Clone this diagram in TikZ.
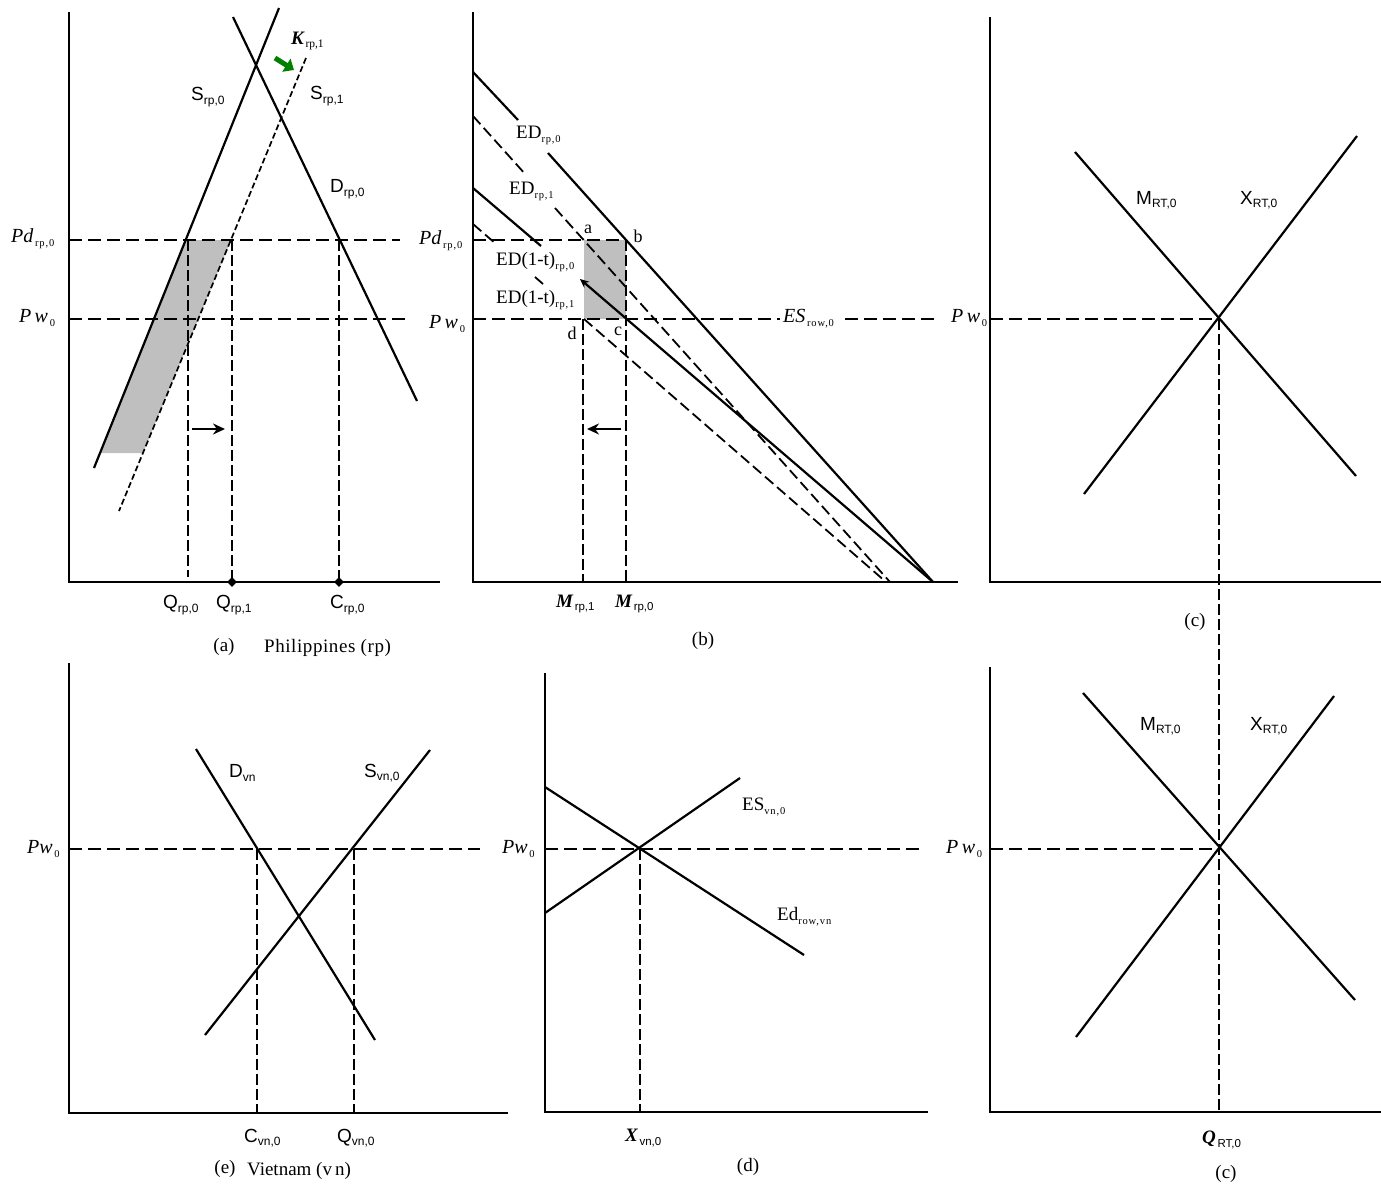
\documentclass[tikz,border=0pt]{standalone}
\usepackage{fontspec}
\setmainfont{Liberation Serif}
\setsansfont{Liberation Sans}
\usetikzlibrary{arrows.meta,shapes.geometric}
% sans label with subscript
\newcommand{\SLab}[2]{{\sffamily\fontsize{19}{19}\selectfont #1\raisebox{-3.5pt}{\fontsize{12}{12}\selectfont #2}}}
% serif upright label with subscript
\newcommand{\RLab}[2]{{\fontsize{19}{19}\selectfont #1\raisebox{-4pt}{\fontsize{10.5}{10.5}\selectfont\addfontfeature{LetterSpace=8}#2}}}
% italic label with subscript
\newcommand{\ILab}[2]{{\fontsize{20}{20}\selectfont\itshape #1\/}\,\raisebox{-4pt}{\fontsize{10.5}{10.5}\selectfont\addfontfeature{LetterSpace=8}#2}}
% bold italic label with sans subscript
\newcommand{\BLab}[2]{{\fontsize{19}{19}\selectfont\bfseries\itshape #1}\,\raisebox{-3.5pt}{\sffamily\fontsize{11.5}{11.5}\selectfont #2}}
\newcommand{\Capt}[1]{{\fontsize{19}{19}\selectfont #1}}
\newcommand{\Pt}[1]{{\fontsize{18}{18}\selectfont #1}}
\begin{document}
\begin{tikzpicture}[x=1pt,y=-1pt,
  axisl/.style={line width=2.8pt},
  curve/.style={line width=2.2pt},
  guide/.style={line width=2pt, dash pattern=on 13pt off 6pt},
  vguide/.style={line width=2pt, dash pattern=on 11pt off 4pt},
  edash/.style={line width=1.8pt, dash pattern=on 11pt off 5pt},
  fine/.style={line width=1.7pt, dash pattern=on 6pt off 3pt},
  shadec/.style={fill=black!25},
  lbl/.style={inner sep=0pt, anchor=west},
  ctr/.style={inner sep=0pt, anchor=center},
  dot/.style={diamond, fill=black, inner sep=0pt, minimum size=10pt},
  shiftarr/.style={line width=2.2pt, -{Stealth[length=12pt,width=11pt]}}
]
\useasboundingbox (0,0) rectangle (1381,1186);

%================ Panel (a) =================
\fill[shadec] (100,453) -- (143,453) -- (231,240) -- (186,240) -- cycle;
\draw[axisl] (69,12) -- (69,582) -- (440,582);
\draw[curve] (94,468) -- (279,8);      % S_rp,0
\draw[curve] (233,17) -- (417,401);    % D_rp,0
\draw[fine] (306,58) -- (119,511);     % S_rp,1
\draw[guide] (69,240) -- (400,240);
\draw[guide] (69,319) -- (405,319);
\draw[vguide] (188,240) -- (188,577);
\draw[vguide] (232,240) -- (232,582);
\draw[vguide] (339,240) -- (339,582);
\node[dot] (dq1) at (232,582) {};
\node[dot] (dc0) at (339,582) {};
\coordinate (sa1) at (192,429); \coordinate (sa2) at (225,429);
\draw[shiftarr] (sa1) -- (sa2);
\coordinate (ga1) at (275,58); \coordinate (ga2) at (294,70);
\draw[line width=5pt, green!50!black, -{Triangle[length=9pt,width=15pt]}] (ga1) -- (ga2);
\node[lbl] (Kr1) at (291,41) {\BLab{K}{\rmfamily rp,1}};
\node[lbl] (Sr0) at (191,97) {\SLab{S}{rp,0}};
\node[lbl] (Sr1) at (310,96) {\SLab{S}{rp,1}};
\node[lbl] (Dr0) at (330,189) {\SLab{D}{rp,0}};
\node[lbl] (PdA) at (11,239) {\ILab{Pd}{rp,0}};
\node[lbl] (PwA) at (19,318) {\ILab{P\,w}{0}};
\node[lbl] (Qr0) at (163,605) {\SLab{Q}{rp,0}};
\node[lbl] (Qr1) at (216,605) {\SLab{Q}{rp,1}};
\node[lbl] (Cr0) at (330,605) {\SLab{C}{rp,0}};
\node[ctr] (capa) at (224,647) {\Capt{(a)}};
\node[lbl] (capaa) at (264,648) {\Capt{\addfontfeature{LetterSpace=3}Philippines (rp)}};

%================ Panel (b) =================
\fill[shadec] (584,240) rectangle (626,319);
\draw[axisl] (473,12) -- (473,582) -- (958,582);
\draw[curve] (473,72) -- (518,120);
\draw[curve] (548,153) -- (933,582);        % ED_rp,0
\draw[edash] (473,116) -- (526,175);
\draw[edash] (555,208) -- (890,582);        % ED_rp,1
\draw[curve] (473,188) -- (541,246);
\coordinate (e1a) at (933,582); \coordinate (e1b) at (580,279);
\draw[curve, -{Stealth[length=9pt,width=8pt]}] (e1a) -- (e1b); % ED(1-t)_rp,0
\draw[edash] (473,224) -- (496,244);
\draw[line width=1.8pt] (535,277) -- (543,284);
\draw[edash] (584,319) -- (886,582);        % ED(1-t)_rp,1
\draw[guide] (473,240) -- (626,240);
\draw[guide] (473,319) -- (780,319);
\draw[guide] (845,319) -- (940,319);
\draw[vguide] (583,319) -- (583,582);
\draw[vguide] (626,240) -- (626,582);
\coordinate (sb1) at (621,429); \coordinate (sb2) at (587,429);
\draw[shiftarr] (sb1) -- (sb2);
\node[lbl] (PdB) at (419,241) {\ILab{Pd}{rp,0}};
\node[lbl] (PwB) at (429,324) {\ILab{P\,w}{0}};
\node[lbl] (ED0) at (516,135) {\RLab{ED}{rp,0}};
\node[lbl] (ED1) at (509,191) {\RLab{ED}{rp,1}};
\node[lbl] (EDt0) at (496,262) {\RLab{ED(1-t)}{rp,0}};
\node[lbl] (EDt1) at (496,300) {\RLab{ED(1-t)}{rp,1}};
\node[ctr] (pa) at (588,229) {\Pt{a}};
\node[ctr] (pb) at (638,236) {\Pt{b}};
\node[ctr] (pc) at (618,331) {\Pt{c}};
\node[ctr] (pd) at (572,333) {\Pt{d}};
\node[lbl] (ESr) at (783,319) {\ILab{ES}{row,0}};
\node[lbl] (Mr1) at (556,604) {\BLab{M}{rp,1}};
\node[lbl] (Mr0) at (615,604) {\BLab{M}{rp,0}};
\node[ctr] (capb) at (703,641) {\Capt{(b)}};

%================ Panel (c) top =================
\draw[axisl] (990,17) -- (990,582) -- (1381,582);
\draw[curve] (1075,152) -- (1356,476);  % M_RT,0
\draw[curve] (1084,494) -- (1357,136);  % X_RT,0
\coordinate (eqc) at (1219,319);
\coordinate (eqc2) at (1219,1112);
\draw[guide] (990,319) -- (eqc);
\draw[vguide] (eqc) -- (eqc2);
\node[lbl] (PwC) at (951,318) {\ILab{P\,w}{0}};
\node[lbl] (MRT) at (1136,200) {\SLab{M}{RT,0}};
\node[lbl] (XRT) at (1240,200) {\SLab{X}{RT,0}};
\node[ctr] (capc) at (1195,622) {\Capt{(c)}};

%================ Panel (e) =================
\draw[axisl] (69,663) -- (69,1113) -- (508,1113);
\draw[curve] (196,749) -- (375,1040);   % D_vn
\draw[curve] (205,1035) -- (430,750);   % S_vn,0
\draw[guide] (69,849) -- (480,849);
\draw[vguide] (257,849) -- (257,1113);
\draw[vguide] (354,849) -- (354,1113);
\node[lbl] (PwE) at (27,849) {\ILab{Pw}{0}};
\node[lbl] (Dvn) at (229,773) {\SLab{D}{vn}};
\node[lbl] (Svn) at (364,773) {\SLab{S}{vn,0}};
\node[lbl] (Cvn) at (244,1138) {\SLab{C}{vn,0}};
\node[lbl] (Qvn) at (337,1138) {\SLab{Q}{vn,0}};
\node[ctr] (cape) at (225,1169) {\Capt{(e)}};
\node[lbl] (capee) at (247,1171) {\Capt{Vietnam (v\,n)}};

%================ Panel (d) =================
\draw[axisl] (545,673) -- (545,1112) -- (928,1112);
\draw[curve] (545,913) -- (740,778);   % ES_vn,0
\draw[curve] (545,787) -- (804,955);   % Ed_row,vn
\draw[guide] (545,849) -- (925,849);
\draw[vguide] (640,849) -- (640,1112);
\node[lbl] (PwD) at (502,849) {\ILab{Pw}{0}};
\node[lbl] (ESvn) at (742,807) {\RLab{ES}{vn,0}};
\node[lbl] (Edr) at (777,917) {\RLab{Ed}{row,vn}};
\node[lbl] (Xvn) at (625,1138) {\BLab{X}{vn,0}};
\node[ctr] (capd) at (748,1167) {\Capt{(d)}};

%================ Panel (c) bottom =================
\draw[axisl] (990,667) -- (990,1112) -- (1381,1112);
\draw[curve] (1083,693) -- (1355,1000);  % M_RT,0
\draw[curve] (1076,1037) -- (1334,696);  % X_RT,0
\draw[guide] (990,849) -- (1219,849);
\node[lbl] (PwC2) at (946,849) {\ILab{P\,w}{0}};
\node[lbl] (MRT2) at (1140,726) {\SLab{M}{RT,0}};
\node[lbl] (XRT2) at (1250,726) {\SLab{X}{RT,0}};
\node[lbl] (QRT) at (1202,1140) {\BLab{Q}{RT,0}};
\node[ctr] (capc2) at (1226,1174) {\Capt{(c)}};
\end{tikzpicture}
\end{document}
